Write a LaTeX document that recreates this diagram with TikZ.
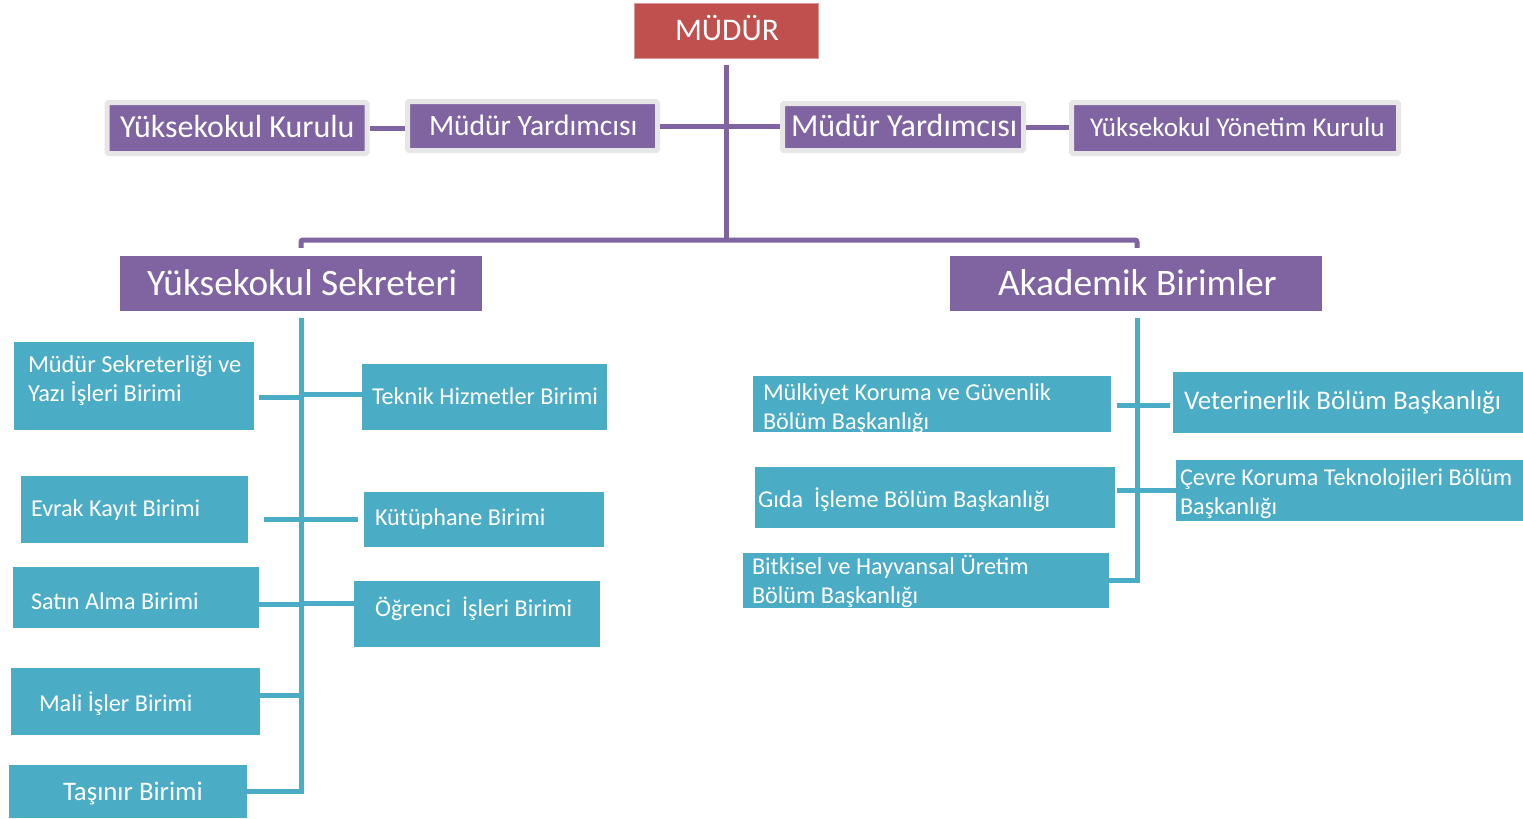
\documentclass[tikz,border=0pt]{standalone}
\usepackage{fontspec}
\setmainfont{Carlito}
\definecolor{mpurple}{HTML}{8064A2}
\definecolor{mred}{HTML}{C0504D}
\definecolor{mblue}{HTML}{4BACC6}
\definecolor{mgray}{HTML}{E6E6E6}
\tikzset{
  pbox/.style={rectangle, fill=mpurple, draw=mgray, line width=5pt, inner sep=0pt, rounded corners=1.5pt},
  hbox/.style={rectangle, fill=mpurple, inner sep=0pt},
  rbox/.style={rectangle, fill=mred, draw=mred!60, line width=1pt, inner sep=0pt},
  bbox/.style={rectangle, fill=mblue, inner sep=0pt},
  txt/.style={text=white, inner sep=0pt, outer sep=0pt, anchor=base west},
  pline/.style={draw=mpurple, line width=5pt},
  bline/.style={draw=mblue, line width=5pt},
}
\newcommand{\fs}[1]{\fontsize{#1}{29}\selectfont}
\newcommand{\twol}[2]{\vtop{\hbox{#1}\hbox{#2}}}
\begin{document}
\begin{tikzpicture}[x=1pt,y=-1pt]
\useasboundingbox (0,0) rectangle (1523,819);
% top level
\node[rbox, minimum width=184pt, minimum height=55pt] (mudur) at (726,30.5) {};
\node[pbox, minimum width=260pt, minimum height=51pt] (yk) at (237,128) {};
\node[pbox, minimum width=250pt, minimum height=49pt] (my1) at (532.5,126) {};
\node[pbox, minimum width=241pt, minimum height=47pt] (my2) at (903,127) {};
\node[pbox, minimum width=327pt, minimum height=51pt] (yyk) at (1235,128) {};
\node[hbox, minimum width=362pt, minimum height=55pt] (ys) at (301,283.5) {};
\node[hbox, minimum width=372pt, minimum height=55pt] (ab) at (1136,283.5) {};
% left blue boxes
\node[bbox, minimum width=240pt, minimum height=88pt] (ms) at (134,386) {};
\node[bbox, minimum width=245pt, minimum height=66pt] (th) at (484.5,397) {};
\node[bbox, minimum width=227pt, minimum height=67pt] (ek) at (134.5,509.5) {};
\node[bbox, minimum width=240pt, minimum height=55pt] (ku) at (484,519.5) {};
\node[bbox, minimum width=246pt, minimum height=61pt] (sa) at (136,597.5) {};
\node[bbox, minimum width=246pt, minimum height=66pt] (oi) at (477,614) {};
\node[bbox, minimum width=249pt, minimum height=67pt] (mi) at (135.5,701.5) {};
\node[bbox, minimum width=238pt, minimum height=53pt] (tb) at (128,791.5) {};
% right blue boxes
\node[bbox, minimum width=358pt, minimum height=56pt] (mk) at (932,404) {};
\node[bbox, minimum width=350pt, minimum height=61pt] (vb) at (1348,402.5) {};
\node[bbox, minimum width=360pt, minimum height=61pt] (gi) at (935,497.5) {};
\node[bbox, minimum width=347pt, minimum height=61pt] (ck) at (1349.5,490.5) {};
\node[bbox, minimum width=366pt, minimum height=55pt] (bh) at (926,580.5) {};
% texts
\node[txt] (t-mudur) at (675,40) {\fs{31.5}MÜDÜR};
\node[txt] (t-yk) at (120,137) {\fs{32}Yüksekokul Kurulu};
\node[txt] (t-my1) at (429,135) {\fs{29.5}Müdür Yardımcısı};
\node[txt] (t-my2) at (791,136) {\fs{32}Müdür Yardımcısı};
\node[txt] (t-yyk) at (1090,136) {\fs{27.1}Yüksekokul Yönetim Kurulu};
\node[txt] (t-ys) at (147,295) {\fs{37.3}Yüksekokul Sekreteri};
\node[txt] (t-ab) at (998,295) {\fs{37.4}Akademik Birimler};
\node[txt] (t-ms) at (28,372) {\fs{24.4}\twol{Müdür Sekreterliği ve}{Yazı İşleri Birimi}};
\node[txt] (t-th) at (372,404) {\fs{24.2}Teknik Hizmetler Birimi};
\node[txt] (t-ek) at (31,516) {\fs{24.2}Evrak Kayıt Birimi};
\node[txt] (t-ku) at (375,525) {\fs{24.2}Kütüphane Birimi};
\node[txt] (t-sa) at (31,609) {\fs{24.2}Satın Alma Birimi};
\node[txt] (t-oi) at (375,616) {\fs{24.2}Öğrenci\ \ İşleri Birimi};
\node[txt] (t-mi) at (39,711) {\fs{24.2}Mali İşler Birimi};
\node[txt] (t-tb) at (63,800) {\fs{26.8}Taşınır Birimi};
\node[txt] (t-mk) at (763,400) {\fs{24.2}\twol{Mülkiyet Koruma ve Güvenlik}{Bölüm Başkanlığı}};
\node[txt] (t-vb) at (1184,409) {\fs{26.9}Veterinerlik Bölüm Başkanlığı};
\node[txt] (t-gi) at (758,507) {\fs{24.2}Gıda\ \ İşleme Bölüm Başkanlığı};
\node[txt] (t-ck) at (1180,485) {\fs{24.2}\twol{Çevre Koruma Teknolojileri Bölüm}{Başkanlığı}};
\node[txt] (t-bh) at (752,574) {\fs{24.2}\twol{Bitkisel ve Hayvansal Üretim}{Bölüm Başkanlığı}};
% purple connectors
\coordinate (top) at (726,240);
\coordinate (lc) at (301,240);
\coordinate (rc) at (1137,240);
\draw[pline] ([yshift=-6pt]mudur.south) -- (top);
\draw[pline, rounded corners=2pt] ([yshift=8pt]ys.north) -- (lc) -- (rc) -- ([yshift=8pt]ab.north -| rc);
\draw[pline] (yk.east) -- (yk.east -| my1.west);
\draw[pline] (my1.east) -- (my1.east -| my2.west);
\draw[pline] (my2.east) -- (my2.east -| yyk.west);
% left tree
\coordinate (lbot) at (301,791);
\coordinate (j1) at (301,397);
\coordinate (j2) at (301,394);
\coordinate (j3) at (301,519);
\coordinate (j4) at (301,604);
\coordinate (j5) at (301,603);
\coordinate (j6) at (301,695);
\draw[bline] ([yshift=-7pt]ys.south) -- (lbot) -- (lbot -| tb.east);
\path (ms.east |- j1) coordinate (x1);
\draw[bline] ([xshift=5pt]x1) -- (j1);
\draw[bline] (j2) -- (j2 -| th.west);
\path (ek.east |- j3) coordinate (x3);
\path (ku.west |- j3) coordinate (y3);
\draw[bline] ([xshift=16pt]x3) -- (j3) -- ([xshift=-6pt]y3);
\draw[bline] (sa.east |- j4) -- (j4);
\draw[bline] (j5) -- (j5 -| oi.west);
\draw[bline] (mi.east |- j6) -- (j6);
% right tree
\coordinate (rbot) at (1137,580);
\coordinate (r1) at (1137,405);
\coordinate (r2) at (1137,490);
\draw[bline] ([yshift=-7pt]ab.south -| rbot) -- (rbot) -- (rbot -| bh.east);
\path (mk.east |- r1) coordinate (m1);
\path (vb.west |- r1) coordinate (v1);
\draw[bline] ([xshift=6pt]m1) -- (r1) -- ([xshift=-3pt]v1);
\path (gi.east |- r2) coordinate (g2);
\draw[bline] ([xshift=2pt]g2) -- (r2) -- (r2 -| ck.west);
\end{tikzpicture}
\end{document}
